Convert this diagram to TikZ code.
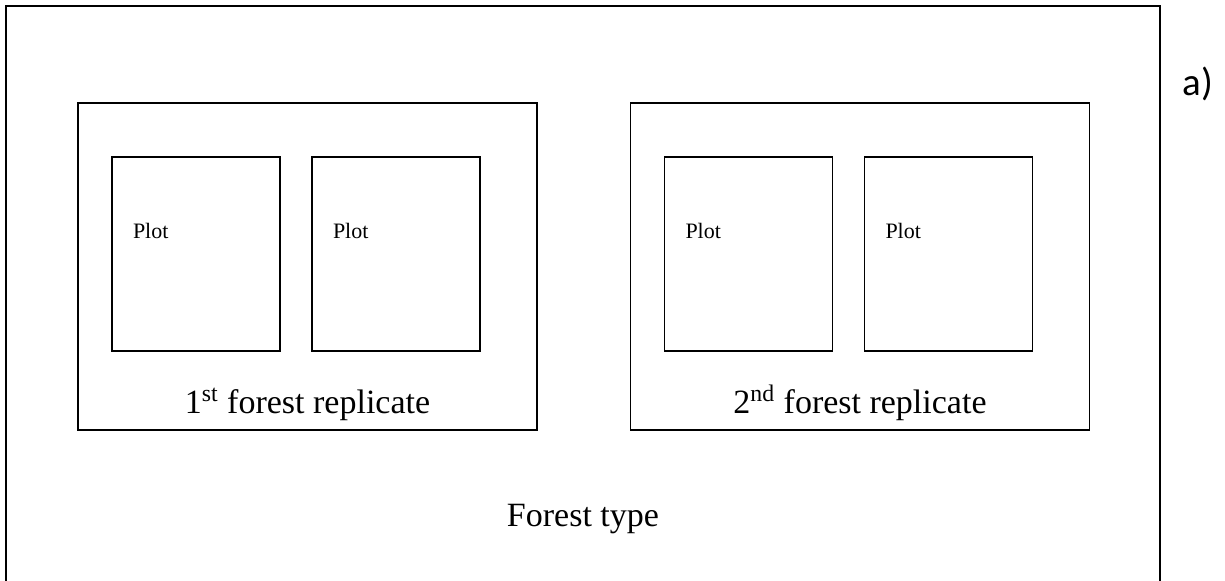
\documentclass[tikz,border=0pt]{standalone}
\usepackage{fontspec}
\setmainfont{Liberation Serif}
\newfontfamily\panelfont{Carlito}
\usetikzlibrary{positioning}

\begin{document}
\begin{tikzpicture}[x=0.5pt, y=-0.5pt, line width=0.9pt]
        \useasboundingbox (0,0) rectangle (1225,581);

        % Forest type (box open at the bottom)
        \node[minimum width=576pt, minimum height=287pt, inner sep=0pt] (F) at (583,294) {};
        \draw (F.south west) |- (F.north east) -- (F.south east);

        % Forest replicates
        \node[draw, rectangle, minimum width=229.5pt, minimum height=163.5pt] (R1) at (307.5,266.5) {};
        \node[draw, rectangle, minimum width=229.5pt, minimum height=163.5pt] (R2) at (860,266.5) {};

        % Plots inside the replicates
        \node[draw, rectangle, minimum width=84pt, minimum height=97pt] (P1) at (196,254) {};
        \node[draw, rectangle, minimum width=84pt, minimum height=97pt] (P2) at (396,254) {};
        \node[draw, rectangle, minimum width=84pt, minimum height=97pt] (P3) at (748.5,254) {};
        \node[draw, rectangle, minimum width=84pt, minimum height=97pt] (P4) at (948.5,254) {};

        % Labels for the plots
        \foreach \i in {1,...,4}
            \node[anchor=west, inner sep=0pt, font=\fontsize{11}{13}\selectfont] (L\i) at ([xshift=10.5pt, yshift=-37.5pt]P\i.north west) {Plot};

        % Labels for the replicates
        \node[anchor=base, inner sep=0pt, font=\fontsize{17}{20}\selectfont] (N1) at ([yshift=8.5pt]R1.south) {1\textsuperscript{st} forest replicate};
        \node[anchor=base, inner sep=0pt, font=\fontsize{17}{20}\selectfont] (N2) at ([yshift=8.5pt]R2.south) {2\textsuperscript{nd} forest replicate};

        % Label for the forest type
        \node[anchor=base, inner sep=0pt, font=\fontsize{17}{20}\selectfont] (T) at (583,527) {Forest type};

        % Panel label
        \node[anchor=base west, inner sep=0pt, font=\panelfont\fontsize{19.5}{22}\selectfont] (A) at (1182,96) {a)};
    \end{tikzpicture}
\end{document}
